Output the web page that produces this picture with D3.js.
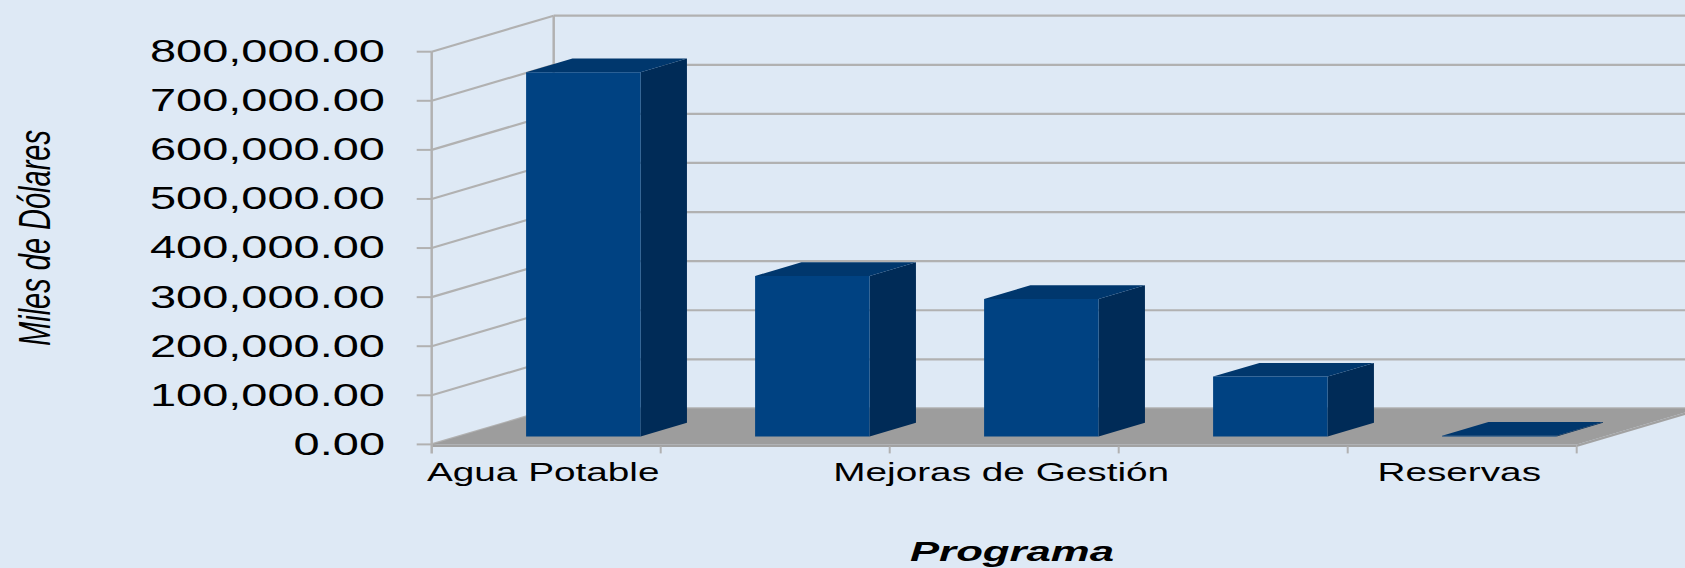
<!DOCTYPE html>
<html>
<head>
<meta charset="utf-8">
<script src="https://cdn.jsdelivr.net/npm/d3@7"></script>
<style>
  html, body { margin: 0; padding: 0; background: #dee9f5; }
  svg { display: block; }
</style>
</head>
<body>
<svg id="chart" width="1685" height="568"></svg>
<script>
// ---- data ----
const categories = ["Agua Potable", "Alcantarillado", "Mejoras de Gestión", "Fortalecimiento", "Reservas"];
const values = [742000, 327000, 280000, 122000, 1500];
const yTicks = [0, 100000, 200000, 300000, 400000, 500000, 600000, 700000, 800000];
const yTickLabels = ["0.00", "100,000.00", "200,000.00", "300,000.00", "400,000.00",
                     "500,000.00", "600,000.00", "700,000.00", "800,000.00"];
const yTitle = "Miles de Dólares";
const xTitle = "Programa";

// ---- layout ----
const W = 1685, H = 568;
const DX = 122, DY = -36;            // oblique depth vector
const Z0 = 0.22, Z1 = 0.60;          // bar depth range
const SX = 1.54;                     // horizontal stretch of the original picture

const svg = d3.select("#chart");
svg.append("rect").attr("width", W).attr("height", H).attr("fill", "#dee9f5");

const x = d3.scaleBand().domain(categories).range([431.7, 1576.7]).padding(0);
const y = d3.scaleLinear().domain([0, 800000]).range([444.4, 51.7]);
const proj = (px, py, z) => [px + DX * z, py + DY * z];
const X0 = x.range()[0], X1 = x.range()[1];
const line = d3.line();

const grid = "#b1b1b1";

// back wall gridlines
svg.append("g").selectAll("line").data(yTicks).join("line")
  .attr("x1", X0 + DX).attr("x2", W + 5)
  .attr("y1", d => y(d) + DY).attr("y2", d => y(d) + DY)
  .attr("stroke", grid).attr("stroke-width", 2.2);
// back wall left edge
svg.append("line")
  .attr("x1", X0 + DX).attr("x2", X0 + DX)
  .attr("y1", y(800000) + DY).attr("y2", y(0) + DY)
  .attr("stroke", grid).attr("stroke-width", 2.5);
// left wall diagonals
svg.append("g").selectAll("path").data(yTicks).join("path")
  .attr("d", d => line([proj(X0, y(d), 0), proj(X0, y(d), 1)]))
  .attr("stroke", grid).attr("stroke-width", 2.2).attr("fill", "none");

// floor
svg.append("path")
  .attr("d", line([proj(X0, y(0), 0), proj(X1, y(0), 0), proj(X1, y(0), 1), proj(X0, y(0), 1)]) + "Z")
  .attr("fill", "#9d9d9d");
svg.append("path")
  .attr("d", line([[X0, y(0)], [X1, y(0)], [X1, y(0) + 2.6], [X0, y(0) + 2.6]]) + "Z")
  .attr("fill", "#a2a2a2");
svg.append("path")
  .attr("d", line([proj(X1, y(0), 0), proj(X1, y(0), 1), [proj(X1, y(0), 1)[0], proj(X1, y(0), 1)[1] + 2.6], [X1, y(0) + 2.6]]) + "Z")
  .attr("fill", "#a2a2a2");

// front y axis and ticks
svg.append("line").attr("x1", X0).attr("x2", X0)
  .attr("y1", y(800000)).attr("y2", y(0) + 9)
  .attr("stroke", grid).attr("stroke-width", 2.5);
svg.append("g").selectAll("line").data(yTicks).join("line")
  .attr("x1", X0 - 15).attr("x2", X0)
  .attr("y1", d => y(d)).attr("y2", d => y(d))
  .attr("stroke", grid).attr("stroke-width", 2);
// category ticks
svg.append("g").selectAll("line").data(categories).join("line")
  .attr("x1", d => x(d) + x.bandwidth()).attr("x2", d => x(d) + x.bandwidth())
  .attr("y1", y(0) + 2).attr("y2", y(0) + 9)
  .attr("stroke", grid).attr("stroke-width", 2);

// bars
const bars = svg.append("g").selectAll("g").data(categories.map((c, i) => ({c, v: values[i]}))).join("g");
const bx0 = d => x(d.c) + x.bandwidth() * 0.295;
const bx1 = d => x(d.c) + x.bandwidth() * 0.795;
bars.append("path") // side
  .attr("d", d => line([proj(bx1(d), y(d.v), Z0), proj(bx1(d), y(0), Z0), proj(bx1(d), y(0), Z1), proj(bx1(d), y(d.v), Z1)]) + "Z")
  .attr("fill", "#002b57");
bars.append("path") // top
  .attr("d", d => line([proj(bx0(d), y(d.v), Z0), proj(bx1(d), y(d.v), Z0), proj(bx1(d), y(d.v), Z1), proj(bx0(d), y(d.v), Z1)]) + "Z")
  .attr("fill", "#00376d");
bars.append("path") // front
  .attr("d", d => line([proj(bx0(d), y(d.v), Z0), proj(bx1(d), y(d.v), Z0), proj(bx1(d), y(0), Z0), proj(bx0(d), y(0), Z0)]) + "Z")
  .attr("fill", "#004282");

// y tick labels
svg.append("g").selectAll("text").data(yTicks).join("text")
  .attr("transform", d => `translate(385,${y(d)}) scale(${SX},1)`)
  .attr("dy", "0.34em")
  .attr("text-anchor", "end")
  .attr("font-family", "'Liberation Sans', Arial, sans-serif")
  .attr("font-size", 30.5)
  .attr("fill", "#000")
  .text((d, i) => yTickLabels[i]);

// category labels (every other one, as in the original)
svg.append("g").selectAll("text").data(categories.filter((c, i) => i % 2 === 0)).join("text")
  .attr("transform", d => `translate(${x(d) + x.bandwidth() / 2 - 3},481) scale(1.55,1)`)
  .attr("text-anchor", "middle")
  .attr("font-family", "'Liberation Sans', Arial, sans-serif")
  .attr("font-size", 25)
  .attr("fill", "#000")
  .text(d => d);

// axis titles
svg.append("text")
  .attr("transform", `translate(50,238) scale(${SX},1) rotate(-90)`)
  .attr("text-anchor", "middle")
  .attr("font-family", "'Liberation Sans', Arial, sans-serif")
  .attr("font-style", "italic")
  .attr("font-size", 29)
  .attr("fill", "#000")
  .text(yTitle);

svg.append("text")
  .attr("transform", `translate(1012,561) scale(1.62,1)`)
  .attr("text-anchor", "middle")
  .attr("font-family", "'Liberation Sans', Arial, sans-serif")
  .attr("font-style", "italic")
  .attr("font-weight", "bold")
  .attr("font-size", 27)
  .attr("fill", "#000")
  .text(xTitle);
</script>
</body>
</html>
